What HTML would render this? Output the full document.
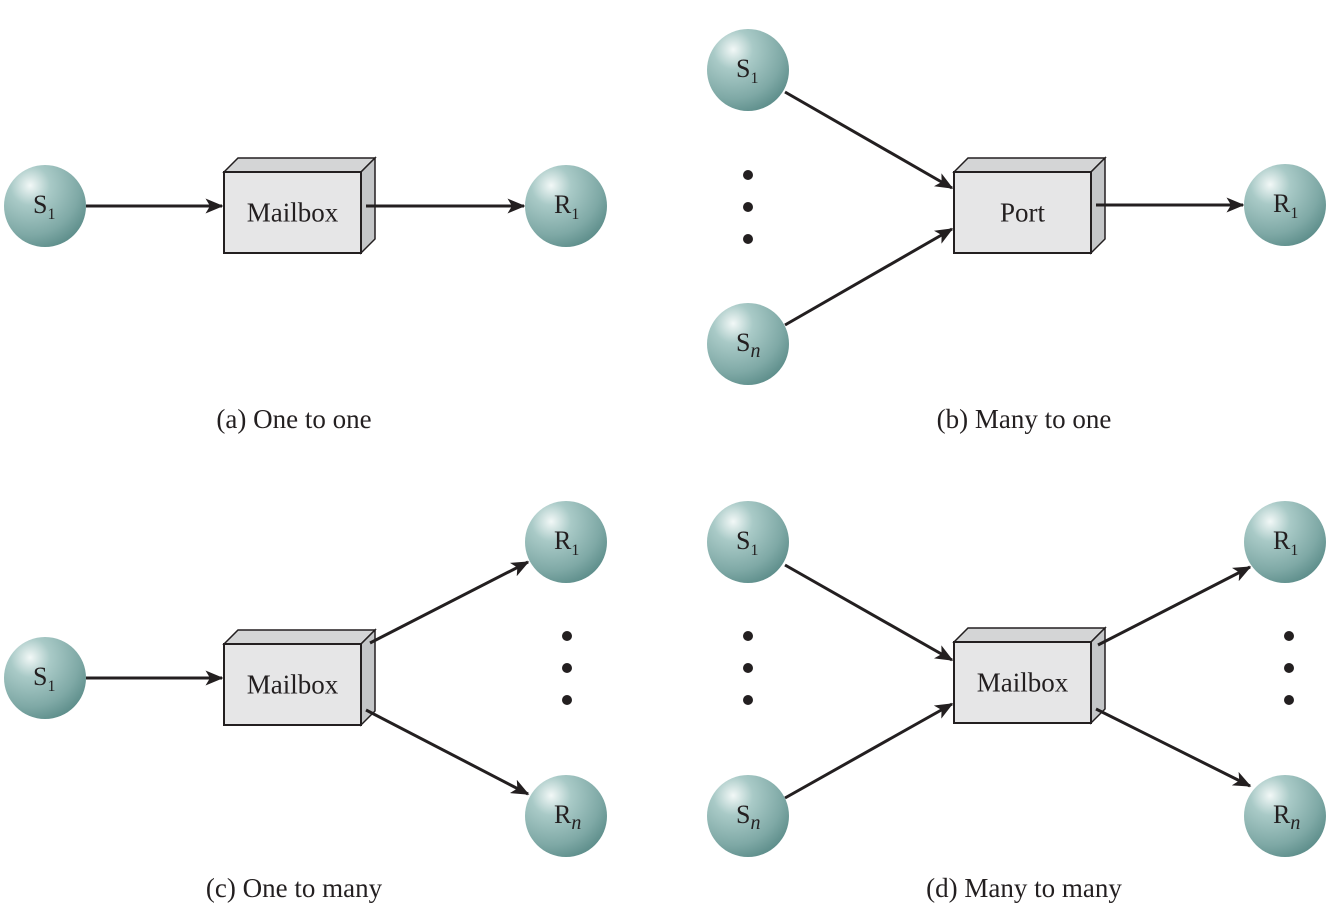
<!DOCTYPE html>
<html><head><meta charset="utf-8"><style>
html,body{margin:0;padding:0;background:#fff;}
svg{display:block;}
text{font-family:"Liberation Serif",serif;fill:#231f20;}
</style></head><body>
<svg id="s" width="1342" height="917" viewBox="0 0 1342 917" xmlns="http://www.w3.org/2000/svg">
<defs>
<radialGradient id="sg" cx="0.32" cy="0.25" r="0.8">
<stop offset="0" stop-color="#f2f8f7"/>
<stop offset="0.3" stop-color="#a9cac7"/>
<stop offset="0.75" stop-color="#7fa9a6"/>
<stop offset="1" stop-color="#5f8f8c"/>
</radialGradient>
<marker id="ah" viewBox="0 0 12 10" refX="11" refY="5" markerWidth="6" markerHeight="5" orient="auto" markerUnits="strokeWidth">
<path d="M0,0 L12,5 L0,10 L3,5 z" fill="#231f20"/>
</marker>
</defs>
</svg>
<script>
const NS='http://www.w3.org/2000/svg';
const svg=document.getElementById('s');
const nodes=[
 ['s1-a','S','1',45,206],['r1-a','R','1',566,206],
 ['s1-b','S','1',748,70],['sn-b','S','n',748,344],['r1-b','R','1',1285,205],
 ['s1-c','S','1',45,678],['r1-c','R','1',566,542],['rn-c','R','n',566,816],
 ['s1-d','S','1',748,542],['sn-d','S','n',748,816],['r1-d','R','1',1285,542],['rn-d','R','n',1285,816]
];
const boxes=[['mailbox-a','Mailbox',224,172],['port-b','Port',954,172],['mailbox-c','Mailbox',224,644],['mailbox-d','Mailbox',954,642]];
const arrows=[
 ['arrow-a1',86,206,222,206],['arrow-a2',366,206,524,206],
 ['arrow-b1',785,92,952,188],['arrow-b2',785,325,952,229],['arrow-b3',1096,205,1243,205],
 ['arrow-c1',86,678,222,678],['arrow-c2',370,643,528,562],['arrow-c3',366,710,528,794],
 ['arrow-d1',785,565,952,660],['arrow-d2',785,798,952,704],['arrow-d3',1098,645,1250,567],['arrow-d4',1096,709,1250,786]
];
const dots=[['dots-b',748,175],['dots-c',567,636],['dots-d-left',748,636],['dots-d-right',1289,636]];
const captions=[['caption-a','(a) One to one',294,428],['caption-b','(b) Many to one',1024,428],['caption-c','(c) One to many',294,897],['caption-d','(d) Many to many',1024,897]];
function mk(t,a){const e=document.createElementNS(NS,t);for(const k in a)e.setAttribute(k,a[k]);svg.appendChild(e);return e;}
boxes.forEach(b=>{const x=b[2],y=b[3],w=137,h=81,d=14;
const g=mk('g',{});


const p=(t,a)=>{const e=document.createElementNS(NS,t);for(const k in a)e.setAttribute(k,a[k]);g.appendChild(e);return e;};
p('polygon',{points:`${x},${y} ${x+d},${y-d} ${x+w+d},${y-d} ${x+w},${y}`,fill:'#d4d5d6',stroke:'#231f20','stroke-width':1.5});
p('polygon',{points:`${x+w},${y} ${x+w+d},${y-d} ${x+w+d},${y+h-d} ${x+w},${y+h}`,fill:'#c4c6c8',stroke:'#231f20','stroke-width':1.5});
p('rect',{x:x,y:y,width:w,height:h,fill:'#e6e6e7',stroke:'#231f20','stroke-width':2});
const t=p('text',{x:x+w/2,y:y+h/2+9,'text-anchor':'middle','font-size':27});t.textContent=b[1];});
arrows.forEach(a=>{const e=mk('line',{x1:a[1],y1:a[2],x2:a[3],y2:a[4],stroke:'#231f20','stroke-width':3,'marker-end':'url(#ah)'});

});
nodes.forEach(n=>{const g=mk('g',{});


const c=document.createElementNS(NS,'circle');c.setAttribute('cx',n[3]);c.setAttribute('cy',n[4]);c.setAttribute('r',41);c.setAttribute('fill','url(#sg)');g.appendChild(c);
const t=document.createElementNS(NS,'text');t.setAttribute('x',n[3]-12);t.setAttribute('y',n[4]+7);t.setAttribute('font-size',26);
t.textContent=n[1];const s=document.createElementNS(NS,'tspan');s.setAttribute('font-size',n[2]==='n'?20:16);s.setAttribute('dy',6);
if(n[2]==='n')s.setAttribute('font-style','italic');s.textContent=n[2];t.appendChild(s);g.appendChild(t);});
dots.forEach(d=>{for(let i=0;i<3;i++){const e=mk('circle',{cx:d[1],cy:d[2]+i*32,r:5,fill:'#231f20'});

}});
captions.forEach(c=>{const e=mk('text',{x:c[2],y:c[3],'text-anchor':'middle','font-size':27});e.textContent=c[1];

});
</script>
</body></html>
